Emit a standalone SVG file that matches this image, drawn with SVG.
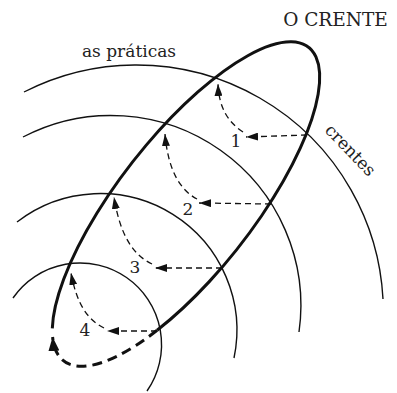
<svg xmlns="http://www.w3.org/2000/svg" width="397" height="393" viewBox="0 0 397 393">
<style>
.arc{fill:none;stroke:#111;stroke-width:1.4}
.ell{fill:none;stroke:#111;stroke-width:3}
.ell-d{fill:none;stroke:#111;stroke-width:3;stroke-dasharray:10 6}
.flow{fill:none;stroke:#111;stroke-width:1.3;stroke-dasharray:6 4}
.t{font-family:"DejaVu Serif","Liberation Serif",serif;fill:#222}
</style>
<defs>
<marker id="ah" markerUnits="userSpaceOnUse" viewBox="0 0 12 8" refX="12" refY="4" markerWidth="12" markerHeight="8" orient="auto">
<path d="M0,0 L12,4 L0,8 z" fill="#111"/>
</marker>
<marker id="ahb" markerUnits="userSpaceOnUse" viewBox="0 0 14 11" refX="14" refY="5.5" markerWidth="14" markerHeight="11" orient="auto">
<path d="M0,0 L14,5.5 L0,11 z" fill="#111"/>
</marker>
</defs>
<rect width="397" height="393" fill="#fff"/>
<g id="circles">
<path class="arc" d="M24 92 A247 247 0 0 1 383 299"/>
<path class="arc" d="M23 137 A190 190 0 0 1 299 332"/>
<path class="arc" d="M17 222 A136.5 136.5 0 0 1 234 358"/>
<path class="arc" d="M13 298 A81.5 81.5 0 0 1 147 391"/>
</g>
<g id="believer">
<path class="ell" d="M52.3 328.4 A199 68 -52 1 1 157.1 330.3"/>
<path class="ell-d" d="M157.1 330.3 A199 68 -52 0 1 52.6 337" marker-end="url(#ahb)"/>
</g>
<g id="connectors">
<path class="flow" d="M307 135 L246 137" marker-end="url(#ah)"/>
<path class="flow" d="M243 132 C228 122 219 108 218 84" marker-end="url(#ah)"/>
<path class="flow" d="M271 204 L199 203" marker-end="url(#ah)"/>
<path class="flow" d="M197 199 C180 190 168 170 165 134" marker-end="url(#ah)"/>
<path class="flow" d="M222 268 L155 268" marker-end="url(#ah)"/>
<path class="flow" d="M152 264 C133 255 120 235 114 197" marker-end="url(#ah)"/>
<path class="flow" d="M157 331 L107 331" marker-end="url(#ah)"/>
<path class="flow" d="M104 328 C88 320 77 305 71 273" marker-end="url(#ah)"/>
</g>
<g id="labels">
<text class="t" x="129" y="57" font-size="17" text-anchor="middle">as práticas</text>
<text class="t" x="335.5" y="26" font-size="18.5" text-anchor="middle">O CRENTE</text>
<text class="t" font-size="17" transform="translate(324 131) rotate(46)">crentes</text>
<text class="t" x="236" y="147" font-size="17" text-anchor="middle">1</text>
<text class="t" x="188" y="215" font-size="17" text-anchor="middle">2</text>
<text class="t" x="135" y="273" font-size="17" text-anchor="middle">3</text>
<text class="t" x="85" y="336" font-size="17" text-anchor="middle">4</text>
</g>
</svg>
